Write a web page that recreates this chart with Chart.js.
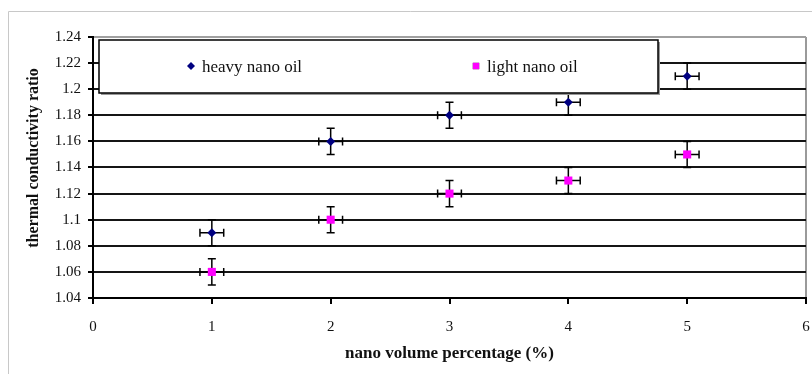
<!DOCTYPE html>
<html>
<head>
<meta charset="utf-8">
<script src="https://cdn.jsdelivr.net/npm/chart.js@4"></script>
<style>
  body { margin: 0; background: #fff; }
  canvas { display: block; }
</style>
</head>
<body>
<canvas id="chart" width="812" height="374"></canvas>
<script>
// data
const volumePercent = [1, 2, 3, 4, 5];
const heavyOil = [1.09, 1.16, 1.18, 1.19, 1.21];
const lightOil = [1.06, 1.10, 1.12, 1.13, 1.15];
const xError = [0.1, 0.1, 0.1, 0.1, 0.1];
const yError = [0.01, 0.01, 0.01, 0.01, 0.01];
const seriesNames = ['heavy nano oil', 'light nano oil'];
const yTitle = 'thermal conductivity ratio';

const serif = "'Liberation Serif', 'Times New Roman', serif";

// error bars drawn under the markers
const errorBars = {
  id: 'errorBars',
  beforeDatasetsDraw(chart) {
    const { ctx, scales: { x, y } } = chart;
    ctx.save();
    ctx.strokeStyle = '#000';
    ctx.lineWidth = 1.5;
    chart.data.datasets.forEach(ds => {
      ds.data.forEach((p, i) => {
        const px = x.getPixelForValue(p.x);
        const py = y.getPixelForValue(p.y);
        const xl = x.getPixelForValue(p.x - ds.xErr[i]);
        const xr = x.getPixelForValue(p.x + ds.xErr[i]);
        const yt = y.getPixelForValue(p.y + ds.yErr[i]);
        const yb = y.getPixelForValue(p.y - ds.yErr[i]);
        const c = 4;
        ctx.beginPath();
        ctx.moveTo(xl, py); ctx.lineTo(xr, py);
        ctx.moveTo(xl, py - c); ctx.lineTo(xl, py + c);
        ctx.moveTo(xr, py - c); ctx.lineTo(xr, py + c);
        ctx.moveTo(px, yt); ctx.lineTo(px, yb);
        ctx.moveTo(px - c, yt); ctx.lineTo(px + c, yt);
        ctx.moveTo(px - c, yb); ctx.lineTo(px + c, yb);
        ctx.stroke();
      });
    });
    ctx.restore();
  }
};

// outer frame, y title (sits a bit above centre) and the boxed legend inside the plot
const frameAndLegend = {
  id: 'frameAndLegend',
  beforeDraw(chart) {
    const ctx = chart.ctx;
    ctx.save();
    ctx.strokeStyle = '#c8c8c8';
    ctx.lineWidth = 1;
    ctx.beginPath();
    ctx.moveTo(8.5, 400); ctx.lineTo(8.5, 11.5); ctx.lineTo(812, 11.5);
    ctx.stroke();
    ctx.translate(34, 158);
    ctx.rotate(-Math.PI / 2);
    ctx.font = 'bold 16px ' + serif;
    ctx.fillStyle = '#111';
    ctx.textAlign = 'center';
    ctx.textBaseline = 'middle';
    ctx.fillText(yTitle, 0, 0);
    ctx.restore();
  },
  afterDatasetsDraw(chart) {
    const ctx = chart.ctx;
    ctx.save();
    // shadow
    ctx.fillStyle = '#999';
    ctx.fillRect(101, 42, 559, 53);
    ctx.fillStyle = '#fff';
    ctx.fillRect(99, 40, 559, 53);
    ctx.strokeStyle = '#000';
    ctx.lineWidth = 1.5;
    ctx.strokeRect(99, 40, 559, 53);
    const ds = chart.data.datasets;
    const items = [[191, 202], [476, 487]];
    ctx.font = '17px ' + serif;
    ctx.textBaseline = 'middle';
    items.forEach((pos, i) => {
      Chart.helpers.drawPoint(ctx, {
        pointStyle: ds[i].pointStyle,
        radius: i === 0 ? 4 : 4.5,
        borderWidth: 0
      }, pos[0], 66);
      ctx.fillStyle = ds[i].backgroundColor;
      ctx.fill();
      ctx.fillStyle = '#111';
      ctx.fillText(seriesNames[i], pos[1], 68);
    });
    ctx.restore();
  }
};

new Chart(document.getElementById('chart'), {
  type: 'scatter',
  data: {
    datasets: [{
      label: seriesNames[0],
      data: volumePercent.map((v, i) => ({ x: v, y: heavyOil[i] })),
      xErr: xError,
      yErr: yError,
      pointStyle: 'rectRot',
      pointRadius: 4.5,
      pointHoverRadius: 4.5,
      backgroundColor: '#000080',
      borderColor: '#000080',
      borderWidth: 0
    }, {
      label: seriesNames[1],
      data: volumePercent.map((v, i) => ({ x: v, y: lightOil[i] })),
      xErr: xError,
      yErr: yError,
      pointStyle: 'rect',
      pointRadius: 5.7,
      pointHoverRadius: 5.7,
      backgroundColor: '#ff00ff',
      borderColor: '#ff00ff',
      borderWidth: 0
    }]
  },
  options: {
    responsive: false,
    animation: false,
    devicePixelRatio: 1,
    layout: { padding: { top: 37, right: 6, left: 0, bottom: 0 } },
    plugins: {
      legend: { display: false },
      tooltip: { enabled: false }
    },
    scales: {
      x: {
        type: 'linear',
        min: 0,
        max: 6,
        ticks: {
          stepSize: 1,
          color: '#111',
          font: { family: serif, size: 15 },
          padding: 14
        },
        grid: {
          color: ctx => ctx.tick && ctx.tick.value === 6 ? '#9a9a9a' : 'rgba(0,0,0,0)',
          lineWidth: 2,
          tickColor: '#000',
          tickLength: 6
        },
        border: { color: '#000', width: 2 },
        title: {
          display: true,
          text: 'nano volume percentage (%)',
          color: '#111',
          font: { family: serif, size: 17, weight: 'bold' },
          padding: { top: 4, bottom: 10 }
        },
        afterFit: s => { s.height = 76; s.paddingLeft = 0; s.paddingRight = 0; }
      },
      y: {
        min: 1.04,
        max: 1.24,
        ticks: {
          stepSize: 0.02,
          color: '#111',
          font: { family: serif, size: 15 },
          padding: 7,
          callback: v => String(+v.toFixed(2))
        },
        grid: {
          color: ctx => ctx.tick && Math.abs(ctx.tick.value - 1.24) < 1e-6 ? '#a0a0a0' : '#151515',
          lineWidth: 2,
          tickColor: '#000',
          tickLength: 5
        },
        border: { color: '#000', width: 2 },
        afterFit: s => { s.width = 93; }
      }
    }
  },
  plugins: [errorBars, frameAndLegend]
});
</script>
</body>
</html>
